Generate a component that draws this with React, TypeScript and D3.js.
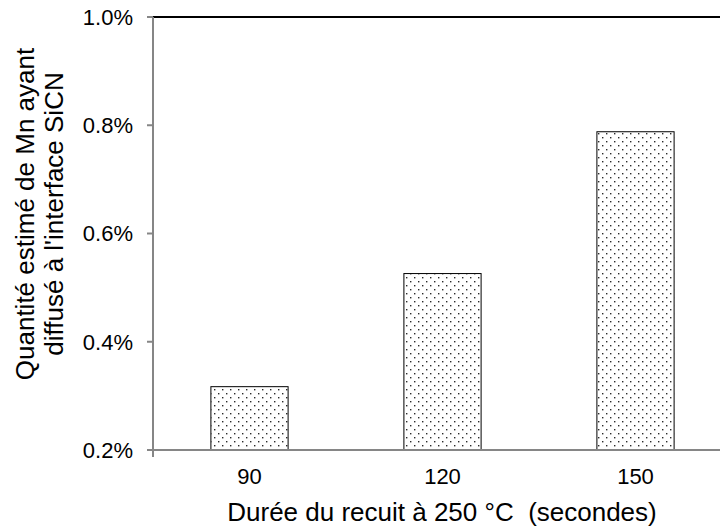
import React from "react";
import * as d3 from "d3";

const categories = ["90", "120", "150"];
const values = [0.00317, 0.00526, 0.00788];
const yTicks = [0.002, 0.004, 0.006, 0.008, 0.01];
const xTitle = "Durée du recuit à 250 °C  (secondes)";
const yTitleLines = ["Quantité estimé de Mn ayant", "diffusé à l'interface SiCN"];

const W = 720;
const H = 531;
const left = 153;
const top = 17;
const bottom = 450;
const plotRight = 732;

export default function App() {
  const x = d3.scaleBand<string>().domain(categories).range([left, plotRight]).paddingInner(0.6).paddingOuter(0.3);
  const y = d3.scaleLinear().domain([0.002, 0.01]).range([bottom, top]);
  const fmt = d3.format(".1%");
  const font = "'Liberation Sans', Arial, sans-serif";
  return (
    <svg width={W} height={H} style={{ position: "absolute", left: 0, top: 0 }} fontFamily={font}>
      <defs>
        <pattern id="dots" patternUnits="userSpaceOnUse" width={8} height={8}>
          <rect width={8} height={8} fill="#fff" />
          <rect x={2} y={1} width={1.4} height={1.4} fill="#2a2a2a" />
          <rect x={6} y={5} width={1.4} height={1.4} fill="#2a2a2a" />
        </pattern>
      </defs>
      <rect width={W} height={H} fill="#fff" />
      {/* top border */}
      <line x1={left} x2={W} y1={top} y2={top} stroke="#000" strokeWidth={2} />
      {/* bars */}
      {categories.map((c, i) => (
        <rect
          key={c}
          x={x(c)}
          y={y(values[i])}
          width={x.bandwidth()}
          height={bottom - y(values[i])}
          fill="url(#dots)"
          stroke="#000"
          strokeWidth={1}
        />
      ))}
      {/* y axis */}
      <line x1={left} x2={left} y1={top} y2={bottom + 7} stroke="#868686" strokeWidth={2} />
      {yTicks.map((t) => (
        <g key={t}>
          <line x1={left - 6} x2={left} y1={y(t)} y2={y(t)} stroke="#868686" strokeWidth={2} />
          <text x={133} y={y(t)} dy="0.36em" textAnchor="end" fontSize={22} fill="#000">
            {fmt(t)}
          </text>
        </g>
      ))}
      {/* x axis */}
      <line x1={left - 6} x2={W} y1={bottom} y2={bottom} stroke="#868686" strokeWidth={2} />
      {categories.map((c) => (
        <text key={c} x={(x(c) as number) + x.bandwidth() / 2} y={484} textAnchor="middle" fontSize={22} fill="#000">
          {c}
        </text>
      ))}
      <text x={442} y={521} textAnchor="middle" fontSize={26} fill="#000" style={{ whiteSpace: "pre" }}>
        {xTitle}
      </text>
      <g transform={`translate(0, 214) rotate(-90)`}>
        {yTitleLines.map((l, i) => (
          <text key={i} x={0} y={34 + i * 29} textAnchor="middle" fontSize={26} fill="#000">
            {l}
          </text>
        ))}
      </g>
    </svg>
  );
}
